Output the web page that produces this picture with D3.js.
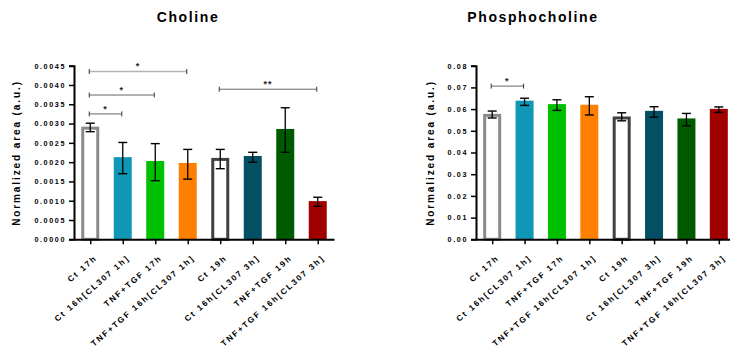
<!DOCTYPE html>
<html>
<head>
<meta charset="utf-8">
<script src="https://cdn.jsdelivr.net/npm/d3@7"></script>
<style>
  html, body { margin: 0; padding: 0; background: #fff; }
  svg { display: block; font-family: "Liberation Sans", Arial, sans-serif; }
</style>
</head>
<body>
<svg id="chart" width="730" height="353"></svg>
<script>
// Sample groups (shared by both panels)
const categories = [
  "Ct 17h", "Ct 16h[CL307 1h]", "TNF+TGF 17h", "TNF+TGF 16h[CL307 1h]",
  "Ct 19h", "Ct 16h[CL307 3h]", "TNF+TGF 19h", "TNF+TGF 16h[CL307 3h]"
];

// Choline: mean and error bar limits
const cholineMean = [0.00292, 0.00213, 0.00203, 0.00198, 0.00211, 0.00216, 0.00286, 0.00099];
const cholineHigh = [0.00301, 0.00251, 0.00248, 0.00233, 0.00233, 0.002255, 0.00341, 0.00109];
const cholineLow  = [0.00279, 0.00170, 0.00152, 0.00156, 0.00183, 0.00200, 0.002255, 0.000855];
const cholineTicks = [0, 0.0005, 0.001, 0.0015, 0.002, 0.0025, 0.003, 0.0035, 0.004, 0.0045];

// Phosphocholine: mean and error bar limits
const phosphoMean = [0.0578, 0.0639, 0.0623, 0.0620, 0.0566, 0.0592, 0.0557, 0.0601];
const phosphoHigh = [0.0591, 0.0650, 0.0643, 0.0657, 0.0583, 0.0611, 0.0580, 0.0610];
const phosphoLow  = [0.0559, 0.0617, 0.0594, 0.0573, 0.0546, 0.0563, 0.0523, 0.0585];
const phosphoTicks = [0, 0.01, 0.02, 0.03, 0.04, 0.05, 0.06, 0.07, 0.08];

// Significance brackets: [from index, to index, level, label]
const cholineSig = [[0, 3, 0.00435, "*"], [0, 2, 0.00374, "*"], [0, 1, 0.00325, "*"], [4, 7, 0.00389, "**"]];
const phosphoSig = [[0, 1, 0.0706, "*"]];

// Fill / outline per group
const fills   = ["#ffffff", "#1097b5", "#00c100", "#ff8000", "#ffffff", "#034f63", "#005a00", "#a00000"];
const strokes = ["#8a8a8a", null, null, null, "#404040", null, null, null];

const svg = d3.select("#chart");

function panel(opt) {
  const g = svg.append("g");
  const x = d3.scalePoint().domain(categories).range([opt.x0, opt.x1]).padding(0.5);
  const y = d3.scaleLinear().domain(opt.domain).range([239.3, 65.7]);
  const bw = 18;

  // title
  g.append("text")
    .attr("x", opt.titleX).attr("y", 22)
    .attr("text-anchor", "middle")
    .style("font-size", "14px").style("font-weight", "bold")
    .style("letter-spacing", "1.6px")
    .text(opt.title);

  // y-axis title
  g.append("text")
    .attr("transform", `translate(${opt.labelX},153) rotate(-90)`)
    .attr("text-anchor", "middle")
    .style("font-size", "10px").style("font-weight", "bold")
    .style("letter-spacing", "1.9px")
    .text("Normalized area (a.u.)");

  // bars
  g.selectAll("rect.bar").data(opt.mean).join("rect")
    .attr("class", "bar")
    .attr("x", (d, i) => x(categories[i]) - bw / 2 + (strokes[i] ? 1.5 : 0))
    .attr("width", (d, i) => bw - (strokes[i] ? 3 : 0))
    .attr("y", (d, i) => y(d) + (strokes[i] ? 1.5 : 0))
    .attr("height", (d, i) => y(0) - y(d) - (strokes[i] ? 1.5 : 0))
    .attr("fill", (d, i) => fills[i])
    .attr("stroke", (d, i) => strokes[i] || "none")
    .attr("stroke-width", 3);

  // error bars
  const eb = g.selectAll("g.err").data(opt.mean).join("g").attr("class", "err");
  eb.append("line")
    .attr("x1", (d, i) => x(categories[i])).attr("x2", (d, i) => x(categories[i]))
    .attr("y1", (d, i) => y(opt.high[i])).attr("y2", (d, i) => y(opt.low[i]))
    .attr("stroke", "#000").attr("stroke-width", 1.3);
  ["high", "low"].forEach(k => {
    eb.append("line")
      .attr("x1", (d, i) => x(categories[i]) - 4.5).attr("x2", (d, i) => x(categories[i]) + 4.5)
      .attr("y1", (d, i) => y(opt[k][i])).attr("y2", (d, i) => y(opt[k][i]))
      .attr("stroke", "#000").attr("stroke-width", 1.4);
  });

  // y axis
  const ya = g.append("g").attr("transform", `translate(${opt.x0},0)`)
    .call(d3.axisLeft(y).tickValues(opt.ticks).tickFormat(d3.format(opt.fmt)).tickSize(5).tickPadding(3));
  ya.select(".domain").attr("stroke", "#000").attr("stroke-width", 2);
  ya.selectAll(".tick line").attr("stroke", "#000").attr("stroke-width", 1.5);
  ya.selectAll(".tick text")
    .style("font-family", "'Liberation Sans', Arial, sans-serif")
    .style("font-size", "7.2px").style("font-weight", "bold")
    .style("letter-spacing", "1.6px").attr("fill", "#000");

  // x axis with slanted group names
  const xa = g.append("g").attr("transform", `translate(0,${y(0)})`)
    .call(d3.axisBottom(x).tickSize(5).tickSizeOuter(0));
  xa.select(".domain").attr("stroke", "#000").attr("stroke-width", 2);
  xa.selectAll(".tick line").attr("stroke", "#000").attr("stroke-width", 1.5);
  xa.selectAll(".tick text")
    .style("font-family", "'Liberation Sans', Arial, sans-serif")
    .style("font-size", "8.2px").style("font-weight", "bold")
    .style("letter-spacing", "1.85px").attr("fill", "#000")
    .attr("text-anchor", "end")
    .attr("dy", "0")
    .attr("y", 0)
    .attr("transform", "translate(7,19.5) rotate(-41)");

  // significance brackets
  opt.sig.forEach(([a, b, lvl, lab], k) => {
    const xa1 = x(categories[a]) - 1, xb1 = x(categories[b]) - 1, yy = y(lvl);
    const col = (opt.light && k === 0) ? "#b4b4b4" : "#666";
    const sw = (opt.light && k === 0) ? 1.5 : 1;
    g.append("line").attr("x1", xa1).attr("x2", xb1).attr("y1", yy).attr("y2", yy)
      .attr("stroke", col).attr("stroke-width", sw);
    [xa1, xb1].forEach(xx => g.append("line")
      .attr("x1", xx).attr("x2", xx).attr("y1", yy - 2.5).attr("y2", yy + 2.5)
      .attr("stroke", "#333").attr("stroke-width", 1));
    g.append("text").attr("x", (xa1 + xb1) / 2).attr("y", yy - 2)
      .attr("text-anchor", "middle")
      .style("font-size", "9px").style("font-weight", "bold").style("letter-spacing", "1px")
      .attr("fill", "#222")
      .text(lab);
  });
}

panel({
  title: "Choline", titleX: 188, labelX: 20, x0: 74, x1: 334,
  domain: [0, 0.0045], ticks: cholineTicks, fmt: ".4f",
  mean: cholineMean, high: cholineHigh, low: cholineLow, sig: cholineSig, light: true
});

panel({
  title: "Phosphocholine", titleX: 533, labelX: 434, x0: 476, x1: 735,
  domain: [0, 0.08], ticks: phosphoTicks, fmt: ".2f",
  mean: phosphoMean, high: phosphoHigh, low: phosphoLow, sig: phosphoSig, light: false
});
</script>
</body>
</html>
